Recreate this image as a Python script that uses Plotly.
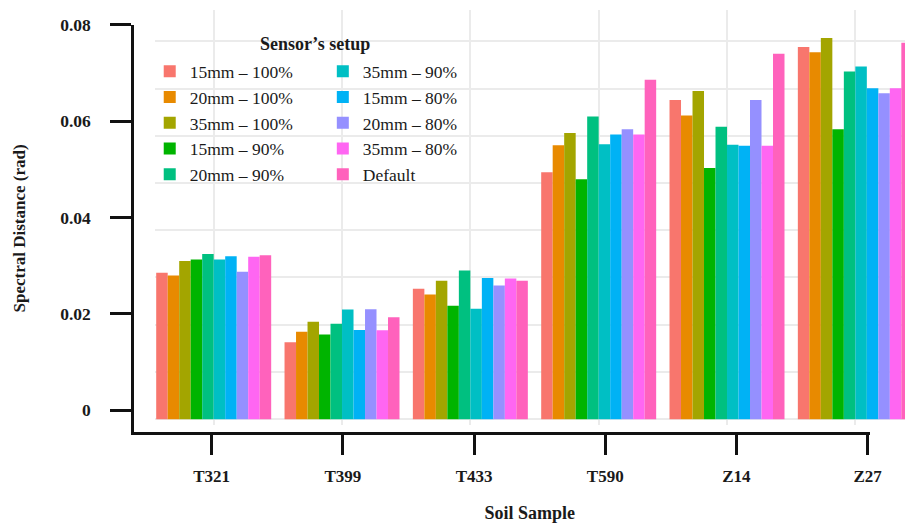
import plotly.graph_objects as go

samples = ["T321", "T399", "T433", "T590", "Z14", "Z27"]

setups = ["15mm – 100%", "20mm – 100%", "35mm – 100%", "15mm – 90%", "20mm – 90%",
          "35mm – 90%", "15mm – 80%", "20mm – 80%", "35mm – 80%", "Default"]

colors = ["#F8766D", "#E88A00", "#A3A500", "#00B400", "#00C080",
          "#00BFC4", "#00B2F5", "#9590FF", "#FF66F2", "#FF62BC"]

# values per setup, one value per soil sample (T321, T399, T433, T590, Z14, Z27)
v_15_100 = [0.0310, 0.0163, 0.0276, 0.0523, 0.0676, 0.0788]
v_20_100 = [0.0304, 0.0185, 0.0264, 0.0580, 0.0643, 0.0777]
v_35_100 = [0.0335, 0.0206, 0.0293, 0.0606, 0.0695, 0.0807]
v_15_90  = [0.0338, 0.0179, 0.0240, 0.0508, 0.0532, 0.0614]
v_20_90  = [0.0350, 0.0202, 0.0315, 0.0641, 0.0619, 0.0736]
v_35_90  = [0.0338, 0.0232, 0.0234, 0.0582, 0.0581, 0.0747]
v_15_80  = [0.0345, 0.0189, 0.0299, 0.0603, 0.0579, 0.0701]
v_20_80  = [0.0312, 0.0233, 0.0283, 0.0614, 0.0676, 0.0690]
v_35_80  = [0.0344, 0.0188, 0.0298, 0.0603, 0.0579, 0.0701]
v_default = [0.0347, 0.0216, 0.0293, 0.0719, 0.0774, 0.0797]

series = [v_15_100, v_20_100, v_35_100, v_15_90, v_20_90,
          v_35_90, v_15_80, v_20_80, v_35_80, v_default]

y_ticks = [0, 0.02, 0.04, 0.06, 0.08]
y_tick_text = ["0", "0.02", "0.04", "0.06", "0.08"]

legend_title = "Sensor’s setup"

SERIF = "Liberation Serif, Times New Roman, serif"
INK = "#1a1a1a"

fig = go.Figure()
for i, (name, vals, col) in enumerate(zip(setups, series, colors)):
    fig.add_trace(go.Bar(
        x=samples, y=vals, name=name,
        marker=dict(color=col, line=dict(width=0)),
        xaxis="x", yaxis="y",
        legend="legend" if i < 5 else "legend2",
    ))

# invisible trace to carry the drawn outer axes
fig.add_trace(go.Scatter(x=samples, y=[None] * len(samples), xaxis="x2", yaxis="y2",
                         mode="markers", showlegend=False, hoverinfo="skip"))

legend_common = dict(
    orientation="v",
    xanchor="left", yanchor="top",
    bgcolor="rgba(0,0,0,0)",
    font=dict(size=17.5, family=SERIF, color=INK),
    traceorder="normal",
)

fig.update_layout(
    width=918, height=525,
    margin=dict(l=134, r=0, t=5, b=93),
    paper_bgcolor="white",
    plot_bgcolor="rgba(0,0,0,0)",
    barmode="group",
    bargap=0.104,
    bargroupgap=0,
    font=dict(family=SERIF, color=INK),
    xaxis=dict(
        domain=[0.0268, 1], anchor="y", type="category",
        range=[-0.46, 5.387],
        showgrid=True, gridcolor="#EBEBEB", gridwidth=1.5,
        showticklabels=False, ticks="", showline=False, zeroline=False,
        title=dict(text="<b>Soil Sample</b>", font=dict(size=18, family=SERIF, color=INK),
                   standoff=81),
    ),
    yaxis=dict(
        domain=[0.0164, 1], anchor="x",
        range=[-0.001256, 0.086647],
        showgrid=True, gridcolor="#EBEBEB", gridwidth=1.5,
        dtick=0.01, tick0=0,
        showticklabels=False, ticks="", showline=False, zeroline=False,
    ),
    xaxis2=dict(
        domain=[0, 0.9541], anchor="y2", type="category",
        range=[-0.592, 5.015],
        showgrid=False, zeroline=False,
        showline=True, linecolor="#111111", linewidth=2.5,
        ticks="outside", ticklen=20, tickwidth=2.5, tickcolor="#111111",
        tickfont=dict(size=17, family=SERIF, color=INK),
        ticklabelstandoff=7,
        tickprefix="<b>", ticksuffix="</b>",
    ),
    yaxis2=dict(
        domain=[0, 0.96487], anchor="x2",
        range=[-0.004513, 0.08],
        tickvals=y_ticks, ticktext=["<b>" + t + "</b>" for t in y_tick_text],
        showgrid=False, zeroline=False,
        showline=True, linecolor="#111111", linewidth=2.5,
        ticks="outside", ticklen=21, tickwidth=2.5, tickcolor="#111111",
        tickfont=dict(size=17.5, family=SERIF, color=INK),
        ticklabelstandoff=16,
        title=dict(text="<b>Spectral Distance (rad)</b>",
                   font=dict(size=17, family=SERIF, color=INK), standoff=31),
    ),
    legend=dict(x=0.0204, y=0.897, **legend_common),
    legend2=dict(x=0.2449, y=0.897, **legend_common),
    annotations=[dict(
        text="<b>" + legend_title + "</b>", xref="paper", yref="paper",
        x=0.2347, y=0.919, xanchor="center", yanchor="middle",
        showarrow=False, font=dict(size=18, family=SERIF, color=INK),
    )],
    showlegend=True,
)

fig.write_html("out.html", post_script="document.body.style.margin='0';",
               config={"displayModeBar": False})
